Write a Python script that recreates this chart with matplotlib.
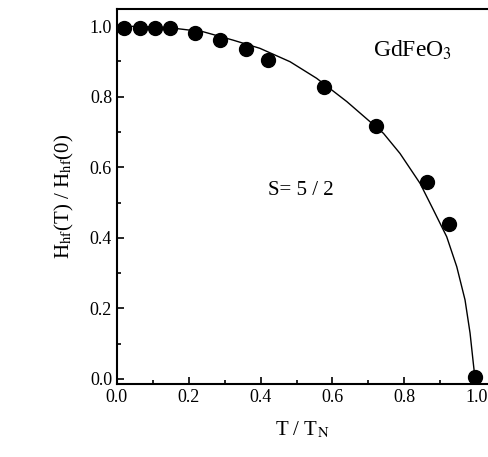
import matplotlib
matplotlib.use("Agg")
import matplotlib.pyplot as plt
from matplotlib.ticker import MultipleLocator

t_meas = [0.019, 0.064, 0.106, 0.148, 0.217, 0.287, 0.359, 0.42, 0.577, 0.721, 0.864, 0.925, 0.997]
h_meas = [0.995, 0.995, 0.995, 0.995, 0.98, 0.96, 0.935, 0.904, 0.827, 0.717, 0.558, 0.439, 0.005]

# S = 5/2 curve
t_curve = [0.0, 0.1, 0.166, 0.24, 0.324, 0.398, 0.482, 0.556, 0.64, 0.742, 0.788,
           0.844, 0.881, 0.918, 0.946, 0.969, 0.983, 0.992, 0.997]
h_curve = [1.0, 0.998, 0.993, 0.984, 0.96, 0.937, 0.899, 0.852, 0.786, 0.696, 0.639,
           0.554, 0.479, 0.403, 0.318, 0.224, 0.13, 0.045, 0.0]

plt.rcParams["font.family"] = ["Liberation Serif", "DejaVu Serif"]
plt.rcParams["mathtext.fontset"] = "stix"

fig = plt.figure(figsize=(4.89, 4.57), dpi=100, facecolor="white")
ax = fig.add_axes([0.239, 0.160, 0.759, 0.820])

ax.plot(t_curve, h_curve, "-", color="black", lw=1.0, zorder=2)
ax.plot(t_meas, h_meas, "o", color="black", ms=10, zorder=3)

ax.set_xlim(0.0, 1.033)
ax.set_ylim(-0.014, 1.048)
ax.xaxis.set_major_locator(MultipleLocator(0.2))
ax.xaxis.set_minor_locator(MultipleLocator(0.1))
ax.yaxis.set_major_locator(MultipleLocator(0.2))
ax.yaxis.set_minor_locator(MultipleLocator(0.1))
ax.tick_params(which="both", direction="in", top=False, right=False, labelsize=13, width=1.2)
ax.tick_params(which="major", length=5)
ax.tick_params(which="minor", length=3)
for s in ax.spines.values():
    s.set_linewidth(1.5)
ax.spines["right"].set_visible(False)

ax.set_xlabel(r"T / T$_{\rm N}$", fontsize=15, labelpad=10)
ax.set_ylabel(r"H$_{\rm hf}$(T) / H$_{\rm hf}$(0)", fontsize=15, labelpad=10)

ax.text(0.713, 0.912, r"GdFeO$_3$", fontsize=17)
ax.text(0.42, 0.52, "S= 5 / 2", fontsize=15)

fig.savefig("out.png", dpi=100, facecolor="white")
